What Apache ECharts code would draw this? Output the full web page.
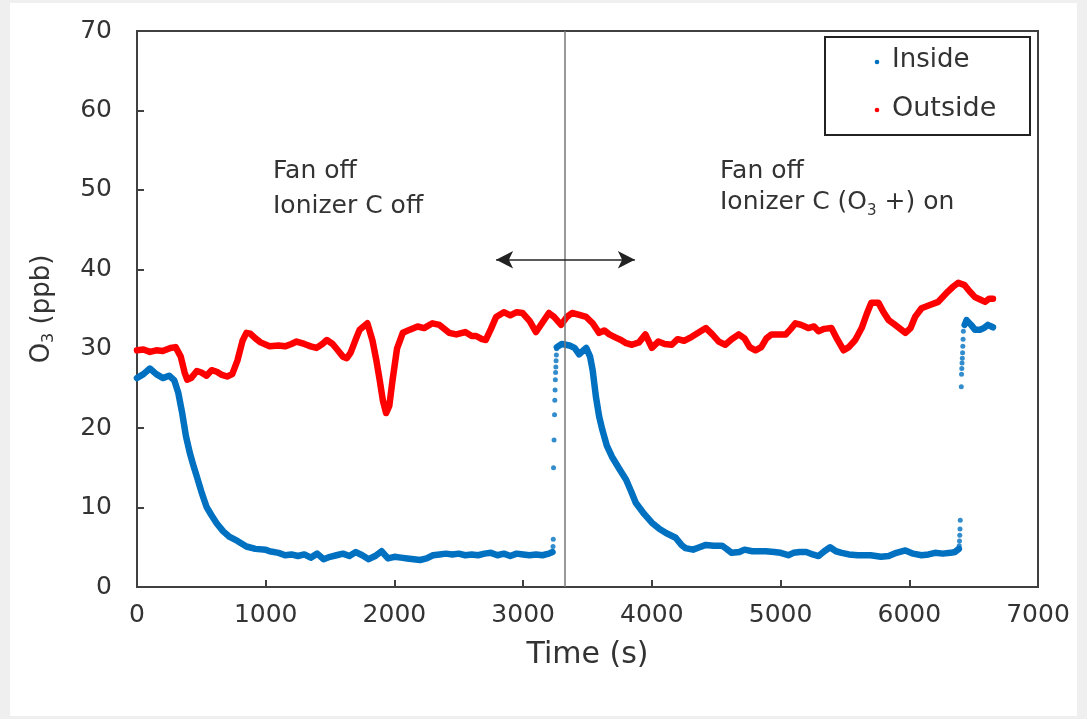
<!DOCTYPE html>
<html>
<head>
<meta charset="utf-8">
<script src="https://cdn.jsdelivr.net/npm/echarts@6/dist/echarts.min.js"></script>
<style>
html,body{margin:0;padding:0;background:#efefef;width:1087px;height:719px;overflow:hidden;}
#panel{position:absolute;left:10px;top:3px;width:1067px;height:713px;background:#fff;}
#chart{position:absolute;left:0;top:0;width:1087px;height:719px;}
</style>
</head>
<body>
<div id="panel"></div>
<div id="chart"></div>
<script>
// ---- data (time in s, O3 in ppb) ----
const xTicks = [0, 1000, 2000, 3000, 4000, 5000, 6000, 7000];
const yTicks = [0, 10, 20, 30, 40, 50, 60, 70];

// Inside: continuous segments (null = gap)
const insideT = [0,50,100,150,200,250,290,320,350,380,410,440,465,500,540,580,620,670,720,780,850,920,1000,1030,1100,1150,1200,1250,1300,1350,1400,1450,1500,1550,1600,1650,1700,1750,1800,1850,1900,1950,2000,2050,2100,2150,2200,2250,2300,2350,2400,2450,2500,2550,2600,2650,2700,2750,2800,2850,2900,2950,3000,3050,3100,3150,3200,3228,
  3245,
  3262,3300,3360,3400,3435,3490,3520,3540,3565,3590,3615,3650,3690,3750,3800,3840,3875,3940,4000,4060,4110,4185,4230,4260,4320,4370,4420,4480,4545,4580,4620,4680,4720,4780,4830,4885,4950,5000,5060,5100,5150,5200,5250,5295,5340,5385,5430,5475,5530,5600,5700,5780,5840,5900,5970,6030,6095,6150,6200,6260,6320,6355,6385,
  6410,
  6430,6445,6480,6510,6550,6580,6610,6650];
const insideV = [26.3,26.8,27.5,26.8,26.3,26.6,26.0,24.5,22.0,19.0,16.9,15.2,13.9,12.0,10.1,9.0,8.0,7.0,6.3,5.8,5.1,4.8,4.7,4.5,4.3,4.0,4.1,3.9,4.1,3.7,4.2,3.5,3.8,4.0,4.2,3.9,4.4,4.0,3.5,3.9,4.5,3.6,3.8,3.7,3.6,3.5,3.4,3.6,4.0,4.1,4.2,4.1,4.2,4.0,4.1,4.0,4.2,4.3,4.0,4.2,3.9,4.2,4.1,4.0,4.1,4.0,4.2,4.4,
  null,
  30.2,30.6,30.4,30.1,29.3,30.1,29.0,27.3,24.0,21.5,19.8,17.8,16.4,14.8,13.5,12.0,10.6,9.2,8.1,7.3,6.8,6.2,5.3,4.9,4.7,5.0,5.3,5.2,5.2,4.8,4.3,4.4,4.7,4.5,4.5,4.5,4.4,4.3,4.0,4.3,4.4,4.4,4.1,3.9,4.5,5.0,4.5,4.3,4.1,4.0,4.0,3.8,3.9,4.3,4.6,4.2,4.0,4.1,4.3,4.2,4.3,4.4,4.8,
  null,
  33.0,33.6,33.0,32.4,32.4,32.6,33.0,32.7];
// Inside: scattered points during the rapid rises
const jumpT = [3232,3234,3236,3240,3244,3246,3248,3250,3252,3254,3256,3258,3260, 6388,6390,6392,6394,6396,6404,6406,6408,6410,6412,6414,6416,6418,6420,6424];
const jumpV = [5.1,6.0,15.0,18.5,21.7,23.5,24.8,26.1,27.0,27.7,28.5,29.2,30.0, 5.2,5.8,6.5,7.3,8.4,25.2,26.8,27.5,28.2,28.8,29.5,30.3,31.2,32.2];

const outsideT = [0,50,100,150,200,260,300,340,370,390,420,465,500,540,580,620,660,700,740,780,820,850,880,920,960,1030,1100,1150,1200,1240,1300,1350,1395,1440,1475,1520,1560,1600,1630,1660,1700,1730,1790,1830,1860,1885,1910,1935,1960,1985,2020,2065,2120,2180,2230,2295,2350,2425,2480,2550,2600,2635,2680,2710,2750,2790,2850,2900,2950,2995,3050,3100,3150,3200,3240,3295,3340,3380,3430,3490,3540,3590,3630,3670,3720,3760,3800,3845,3900,3950,4000,4050,4100,4155,4200,4250,4310,4360,4420,4470,4520,4570,4620,4675,4720,4760,4805,4850,4890,4930,4980,5040,5080,5115,5160,5215,5260,5295,5340,5395,5440,5490,5530,5580,5630,5670,5705,5760,5800,5840,5890,5930,5970,6010,6045,6095,6160,6225,6260,6300,6340,6380,6430,6470,6510,6550,6590,6620,6650];
const outsideV = [29.8,29.9,29.6,29.8,29.7,30.1,30.2,29.0,27.0,26.1,26.3,27.2,27.0,26.6,27.3,27.1,26.7,26.5,26.8,28.5,31.0,32.0,31.9,31.3,30.8,30.3,30.4,30.3,30.6,30.9,30.6,30.3,30.1,30.6,31.1,30.6,29.8,29.0,28.8,29.5,31.2,32.4,33.2,31.0,28.5,26.1,23.5,21.9,22.8,26.0,30.0,32.0,32.4,32.8,32.6,33.2,33.0,32.0,31.8,32.1,31.6,31.6,31.2,31.1,32.5,34.0,34.6,34.2,34.6,34.5,33.5,32.1,33.3,34.5,34.0,33.0,34.0,34.5,34.3,34.0,33.2,32.0,32.3,31.8,31.4,31.1,30.7,30.5,30.8,31.8,30.1,30.9,30.6,30.5,31.2,31.0,31.5,32.0,32.6,31.8,30.9,30.5,31.2,31.8,31.3,30.2,29.8,30.2,31.3,31.8,31.8,31.8,32.5,33.2,33.0,32.6,32.8,32.2,32.5,32.6,31.2,29.8,30.2,31.1,32.6,34.4,35.8,35.8,34.6,33.6,33.0,32.5,32.0,32.6,34.0,35.1,35.5,35.9,36.5,37.2,37.8,38.3,38.0,37.2,36.5,36.2,35.9,36.3,36.3];

const switchTime = 3320;          // vertical marker line
const arrowFrom = 2790, arrowTo = 3868, arrowY = 41.2;

// ---- build ----
const pairs = (ts, vs) => ts.map((t, i) => [t, vs[i] === null ? '-' : vs[i]]);
const axisColor = '#404040';
const textColor = '#333333';
const BLUE = '#0070C0', RED = '#FF0000';
const FONT = 'DejaVu Sans, Verdana, sans-serif';

const chart = echarts.init(document.getElementById('chart'), null, {renderer: 'canvas'});
chart.setOption({
  animation: false,
  backgroundColor: 'transparent',
  textStyle: {fontFamily: FONT},
  grid: {left: 137, top: 31, width: 901, height: 556, show: true, borderColor: axisColor, borderWidth: 2, backgroundColor: 'transparent'},
  xAxis: {
    type: 'value', min: 0, max: 7000, interval: 1000,
    name: 'Time (s)', nameLocation: 'middle', nameGap: 53,
    nameTextStyle: {fontSize: 30, color: textColor, fontFamily: FONT},
    axisLine: {show: true, lineStyle: {color: axisColor, width: 2}},
    axisTick: {show: true, inside: true, length: 7, lineStyle: {color: axisColor, width: 2}},
    axisLabel: {fontSize: 25, color: textColor, fontFamily: FONT, margin: 16, formatter: v => xTicks.includes(v) ? String(v) : ''},
    splitLine: {show: false}
  },
  yAxis: {
    type: 'value', min: 0, max: 70, interval: 10,
    name: '{n|O}{s|3}{n| (ppb)}', nameLocation: 'middle', nameGap: 80, nameRotate: 90,
    nameTextStyle: {
      color: textColor,
      rich: {
        n: {fontSize: 26, color: textColor, fontFamily: FONT, lineHeight: 30},
        s: {fontSize: 16, color: textColor, fontFamily: FONT, verticalAlign: 'bottom', lineHeight: 16}
      }
    },
    axisLine: {show: true, lineStyle: {color: axisColor, width: 2}},
    axisTick: {show: true, inside: true, length: 7, lineStyle: {color: axisColor, width: 2}},
    axisLabel: {fontSize: 25, color: textColor, fontFamily: FONT, margin: 25, formatter: v => yTicks.includes(v) ? String(v) : ''},
    splitLine: {show: false}
  },
  legend: {show: false},
  series: [
    {
      name: 'Outside', type: 'line', data: pairs(outsideT, outsideV),
      showSymbol: false, symbol: 'none', lineStyle: {color: RED, width: 6.5, join: 'round', cap: 'round'},
      itemStyle: {color: RED}, z: 3,
      markLine: {
        silent: true, animation: false, symbol: ['none', 'none'], label: {show: false},
        lineStyle: {color: '#777', width: 1.5, type: 'solid'},
        data: [{xAxis: switchTime}]
      }
    },
    {
      name: 'Inside', type: 'line', data: pairs(insideT, insideV),
      showSymbol: false, symbol: 'none', connectNulls: false,
      lineStyle: {color: BLUE, width: 6.5, join: 'round', cap: 'round'},
      itemStyle: {color: BLUE}, z: 4,
      markLine: {
        silent: true, animation: false, symbol: ['arrow', 'arrow'], symbolSize: [13, 17],
        label: {show: false},
        lineStyle: {color: '#222', width: 1.5, type: 'solid'},
        data: [[{coord: [arrowFrom, arrowY]}, {coord: [arrowTo, arrowY]}]]
      }
    },
    {
      name: 'Inside', type: 'scatter', data: pairs(jumpT, jumpV),
      symbol: 'circle', symbolSize: 5, itemStyle: {color: BLUE}, z: 4
    }
  ],
  graphic: [
    // legend box
    {type: 'rect', shape: {x: 825, y: 37, width: 205, height: 98}, style: {fill: '#fff', stroke: '#222', lineWidth: 2}, z: 10},
    {type: 'circle', shape: {cx: 877, cy: 62, r: 2.3}, style: {fill: BLUE}, z: 11},
    {type: 'text', left: 892, top: 47, style: {text: 'Inside', fontSize: 26, fill: '#333', fontFamily: FONT}, z: 11},
    {type: 'circle', shape: {cx: 877, cy: 110, r: 2.3}, style: {fill: RED}, z: 11},
    {type: 'text', left: 892, top: 95, style: {text: 'Outside', fontSize: 27, fill: '#333', fontFamily: FONT}, z: 11},
    // annotations
    {type: 'text', left: 273, top: 159, style: {text: 'Fan off', fontSize: 25, fill: textColor, fontFamily: FONT}, z: 11},
    {type: 'text', left: 273, top: 194, style: {text: 'Ionizer C off', fontSize: 25, fill: textColor, fontFamily: FONT}, z: 11},
    {type: 'text', left: 720, top: 159, style: {text: 'Fan off', fontSize: 25, fill: textColor, fontFamily: FONT}, z: 11},
    {type: 'text', left: 720, top: 190, style: {
      text: '{n|Ionizer C (O}{s|3}{n| +) on}',
      fill: textColor,
      rich: {
        n: {fontSize: 25, fill: textColor, fontFamily: FONT, lineHeight: 32},
        s: {fontSize: 15, fill: textColor, fontFamily: FONT, verticalAlign: 'bottom', lineHeight: 17}
      }
    }, z: 11}
  ]
});
</script>
</body>
</html>
